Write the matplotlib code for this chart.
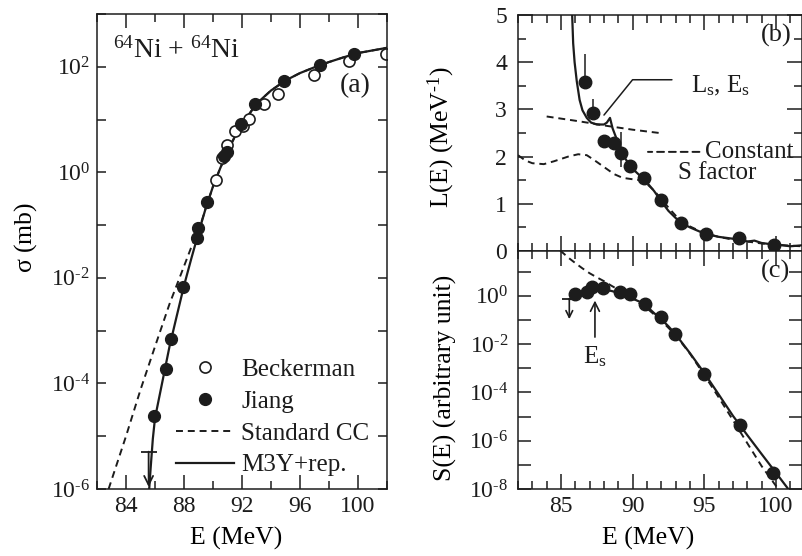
'''
64Ni + 64Ni fusion: cross section, logarithmic derivative and S factor.
'''

import numpy as np
import matplotlib.pyplot as plt
from matplotlib.ticker import FixedLocator, MultipleLocator, FuncFormatter, NullLocator


# ---- panel (a): cross section (mb) ----
beck_e = [90.2, 90.6, 91.0, 91.5, 92.1, 92.5, 93.5, 94.5, 96.95, 99.4, 101.95]
beck_sigma = [0.72, 1.86, 3.3, 6.0, 7.7, 10.2, 19.5, 30.0, 69.0, 126.0, 174.0]

jiang_e = [85.95, 86.74, 87.07, 87.92, 88.92, 88.99, 89.62, 90.75, 90.95,
           91.9, 92.9, 94.9, 97.4, 99.7]
jiang_sigma = [2.4e-5, 1.9e-4, 6.9e-4, 6.8e-3, 0.058, 0.087, 0.27, 2.0, 2.4,
               8.3, 19.5, 54.0, 107.0, 174.0]

m3y_e = [85.6, 85.7, 85.85, 86.0, 86.5, 87.0, 87.5, 88.0, 88.5, 89.0, 89.5,
         90.0, 90.5, 91.0, 91.5, 92.0, 93.0, 94.0, 95.0, 96.0, 97.0, 98.0,
         99.0, 100.0, 101.0, 102.0]
m3y_sigma = [1e-6, 2.5e-6, 8.9e-6, 2.2e-5, 1.05e-4, 5.0e-4, 1.9e-3, 7.1e-3,
             0.023, 0.071, 0.21, 0.54, 1.2, 2.5, 4.7, 8.1, 20.0, 35.5, 55.0,
             76.0, 98.0, 123.0, 151.0, 182.0, 204.0, 229.0]

cc_e = [82.8, 84.0, 85.0, 86.0, 87.0, 88.0, 88.5, 89.0]
cc_sigma = [1e-6, 1e-5, 7.6e-5, 5.0e-4, 3.2e-3, 0.0166, 0.038, 0.076]

ul_e_a = 85.56
ul_sigma_a = 5.1e-6

# ---- panel (b): L(E) (MeV^-1) ----
jiang_l_e = [86.68, 87.26, 88.0, 88.7, 89.19, 89.8, 90.8, 91.96, 93.37,
             95.1, 97.44, 99.86]
jiang_l = [3.57, 2.92, 2.34, 2.28, 2.07, 1.80, 1.54, 1.08, 0.60, 0.37, 0.27, 0.13]
jiang_l_err_lo = [0.1, 0.1, 0.0, 0.0, 0.3, 0.0, 0.0, 0.0, 0.0, 0.0, 0.0, 0.0]
jiang_l_err_hi = [0.6, 0.3, 0.0, 0.0, 0.45, 0.0, 0.0, 0.0, 0.0, 0.0, 0.0, 0.0]

m3y_l_e = [85.78, 85.85, 85.95, 86.1, 86.3, 86.5, 86.8, 87.1, 87.5, 88.0,
           88.2, 88.42, 88.6, 88.9, 89.2, 89.5, 90.0, 90.5, 91.0, 91.5, 92.0,
           92.5, 93.0, 93.5, 94.0, 95.0, 96.0, 97.0, 97.5, 98.0, 98.5, 99.0,
           99.5, 100.0, 100.5, 101.0, 101.8]
m3y_l = [5.0, 4.4, 4.0, 3.6, 3.2, 2.98, 2.82, 2.72, 2.68, 2.68, 2.72, 2.82,
         2.6, 2.36, 2.12, 1.95, 1.74, 1.6, 1.45, 1.27, 1.05, 0.85, 0.7, 0.58,
         0.5, 0.37, 0.3, 0.26, 0.24, 0.2, 0.22, 0.17, 0.15, 0.14, 0.12, 0.1,
         0.12]

const_l_e = [84.0, 86.0, 87.25, 88.0, 90.0, 92.14]
const_l = [2.85, 2.76, 2.70, 2.66, 2.57, 2.49]

cc_l_e = [82.0, 82.5, 83.0, 83.8, 84.5, 85.5, 86.2, 86.8, 87.3, 88.0, 88.7,
          89.3, 90.0, 90.5, 91.0, 91.5, 92.0, 92.5, 93.0, 94.0, 95.0, 96.0,
          97.0, 98.0, 99.0, 100.0, 101.8]
cc_l = [2.03, 1.92, 1.86, 1.84, 1.9, 2.0, 2.05, 2.03, 1.93, 1.78, 1.63, 1.55,
        1.52, 1.5, 1.42, 1.28, 1.1, 0.92, 0.75, 0.52, 0.38, 0.3, 0.24, 0.2,
        0.16, 0.13, 0.1]

# ---- panel (c): S(E) (arbitrary unit) ----
jiang_s_e = [85.98, 86.79, 87.14, 87.95, 89.1, 89.8, 90.86, 91.98, 92.96,
             95.0, 97.5, 99.82]
jiang_s = [1.17, 1.38, 2.19, 2.0, 1.38, 1.17, 0.457, 0.126, 0.0257, 5.75e-4,
           4.57e-6, 4.8e-8]

m3y_s_e = [85.6, 86.0, 86.5, 87.0, 87.5, 88.0, 88.5, 89.0, 89.5, 90.0, 90.5,
           91.0, 91.5, 92.0, 92.5, 93.0, 94.0, 95.0, 96.0, 97.0, 98.0, 99.0,
           100.0, 100.86]
m3y_s = [0.71, 1.07, 1.41, 1.66, 1.78, 1.74, 1.58, 1.32, 1.05, 0.76, 0.56,
         0.355, 0.19, 0.107, 0.054, 0.0251, 4.2e-3, 6.3e-4, 8.3e-5, 1.07e-5,
         1.7e-6, 2.8e-7, 4.7e-8, 1.0e-8]

cc_s_e = [84.95, 85.5, 86.0, 86.5, 87.0, 87.5, 88.0, 88.5, 89.0, 89.5, 90.0,
          91.0, 92.0, 93.0, 94.0, 95.0, 96.0, 97.0, 98.0, 99.0, 100.16]
cc_s = [74.0, 38.0, 22.4, 13.5, 8.5, 5.75, 4.0, 2.63, 1.78, 1.17, 0.76, 0.30,
        0.093, 0.0234, 4.0e-3, 5.2e-4, 6.3e-5, 7.1e-6, 7.9e-7, 8.9e-8, 1.0e-8]

ul_e_c = 85.58
ul_s_c = 0.76
ul_s_c_low = 0.107

e_s = 87.37


INK = '#1c1c1c'

plt.rcParams['font.family'] = ['Liberation Serif', 'DejaVu Serif']
plt.rcParams['mathtext.fontset'] = 'custom'
plt.rcParams['mathtext.rm'] = 'Liberation Serif'
plt.rcParams['mathtext.it'] = 'Liberation Serif:italic'
plt.rcParams['font.size'] = 17
plt.rcParams['axes.linewidth'] = 1.1
plt.rcParams['lines.scale_dashes'] = False
plt.rcParams['text.color'] = INK
plt.rcParams['axes.edgecolor'] = INK
plt.rcParams['xtick.color'] = INK
plt.rcParams['ytick.color'] = INK
plt.rcParams['xtick.direction'] = 'in'
plt.rcParams['ytick.direction'] = 'in'
plt.rcParams['xtick.top'] = True
plt.rcParams['ytick.right'] = True

DASH = (0, (5, 3.5))
TICK_FS = 17
LABEL_FS = 18.5
TEXT_FS = 18


def log_label(v, pos):
    e = int(round(np.log10(v)))
    if e % 2:
        return ''
    if e < 0:
        return r'$\mathregular{10^{\text{-}%d}}$' % -e
    return r'$\mathregular{10^{%d}}$' % e


fig = plt.figure(figsize=(8.02, 5.56), dpi=100)
ax_a = fig.add_axes([97 / 802, 67 / 556, 290 / 802, 475 / 556])
ax_b = fig.add_axes([518 / 802, 305 / 556, 284 / 802, 236 / 556])
ax_c = fig.add_axes([518 / 802, 67 / 556, 284 / 802, 238 / 556])

# ---------------- (a) ----------------
ax = ax_a
ax.set_yscale('log')
cc_all_e = cc_e + [e for e in m3y_e if e > cc_e[-1]]
cc_all_s = cc_sigma + [s for e, s in zip(m3y_e, m3y_sigma) if e > cc_e[-1]]
h_cc, = ax.plot(cc_all_e, cc_all_s, color=INK, lw=1.4, linestyle=DASH)
h_m3y, = ax.plot(m3y_e, m3y_sigma, color=INK, lw=1.6)
h_beck, = ax.plot(beck_e, beck_sigma, 'o', ms=8, mfc='white', mec=INK, mew=1.2)
h_jiang, = ax.plot(jiang_e, jiang_sigma, 'o', ms=8.5, color=INK)
ax.plot([ul_e_a], [ul_sigma_a], '_', ms=11, mew=1.3, color=INK)
ax.annotate('', xy=(ul_e_a, 1.1e-6), xytext=(ul_e_a, ul_sigma_a),
            arrowprops=dict(arrowstyle='->', color=INK, lw=1.3,
                            shrinkA=0, shrinkB=0, mutation_scale=16))
ax.set_xlim(82, 102)
ax.set_ylim(1e-6, 1e3)
ax.xaxis.set_major_locator(MultipleLocator(4))
ax.xaxis.set_minor_locator(MultipleLocator(2))
ax.yaxis.set_major_locator(FixedLocator(10.0 ** np.arange(-6, 4)))
ax.yaxis.set_minor_locator(NullLocator())
ax.yaxis.set_major_formatter(FuncFormatter(log_label))
ax.tick_params(axis='x', which='major', length=10, width=1.1, pad=5,
               labelsize=TICK_FS)
ax.tick_params(axis='x', which='minor', length=5.5, width=1.1)
ax.tick_params(axis='y', which='major', length=6.5, width=1.1, pad=5,
               labelsize=TICK_FS)
ax.set_xlabel('E (MeV)', fontsize=LABEL_FS)
ax.xaxis.set_label_coords(0.479, -0.08)
ax.set_ylabel(r'$\mathregular{\sigma}$ (mb)', fontsize=LABEL_FS)
ax.yaxis.set_label_coords(-0.2, 0.53)
ax.text(0.055, 0.924, r'$^{64}$Ni + $^{64}$Ni', transform=ax.transAxes,
        fontsize=20, va='center', ha='left')
ax.text(0.945, 0.85, '(a)', transform=ax.transAxes, fontsize=20,
        va='center', ha='right')
ax.legend([h_beck, h_jiang, h_cc, h_m3y],
          ['Beckerman', 'Jiang', 'Standard CC', 'M3Y+rep.'],
          loc='lower right', bbox_to_anchor=(1.0, -0.01), frameon=False,
          fontsize=TEXT_FS, handlelength=2.3, handletextpad=0.3,
          labelspacing=0.37, borderpad=0.2)

# ---------------- (b) ----------------
ax = ax_b
ax.plot(cc_l_e, cc_l, color=INK, lw=1.4, linestyle=DASH)
ax.plot(const_l_e, const_l, color=INK, lw=1.4, linestyle=DASH)
ax.plot(m3y_l_e, m3y_l, color=INK, lw=1.6)
ax.errorbar(jiang_l_e, jiang_l, yerr=[jiang_l_err_lo, jiang_l_err_hi], fmt='o',
            ms=9, color=INK, elinewidth=1.1, capsize=0)
ax.set_xlim(82, 101.82)
ax.set_ylim(0, 5)
ax.xaxis.set_major_locator(FixedLocator([85, 90, 95, 100]))
ax.xaxis.set_minor_locator(MultipleLocator(1))
ax.yaxis.set_major_locator(MultipleLocator(1))
ax.yaxis.set_minor_locator(MultipleLocator(0.5))
ax.tick_params(axis='x', which='major', length=10.5, width=1.1, labelbottom=False)
ax.tick_params(axis='x', which='minor', length=6, width=1.1)
ax.tick_params(axis='y', which='major', length=10.5, width=1.1, pad=8,
               labelsize=TICK_FS)
ax.tick_params(axis='y', which='minor', length=5.5, width=1.1)
ax.set_ylabel(r'L(E) (MeV$^{\mathregular{\text{-}1}}$)', fontsize=LABEL_FS)
ax.yaxis.set_label_coords(-0.216, 0.483)
ax.text(0.965, 0.915, '(b)', transform=ax.transAxes, fontsize=19,
        va='center', ha='right')
ax.annotate(r'L$_\mathregular{s}$, E$_\mathregular{s}$', xy=(88.0, 2.88),
            xytext=(94.1, 3.5), fontsize=TEXT_FS, va='center', ha='left',
            arrowprops=dict(arrowstyle='-', color=INK, lw=1.1, relpos=(0, 0.75),
                            shrinkA=12, shrinkB=0,
                            connectionstyle='angle,angleA=0,angleB=51,rad=0'))
ax.annotate('Constant', xy=(91.07, 2.10), xytext=(95.05, 2.10),
            fontsize=TEXT_FS, va='center', ha='left',
            arrowprops=dict(arrowstyle='-', color=INK, lw=1.4, linestyle=DASH,
                            relpos=(0, 0.5), shrinkA=2, shrinkB=0))
ax.text(93.2, 1.66, 'S factor', fontsize=TEXT_FS, va='center', ha='left')

# ---------------- (c) ----------------
ax = ax_c
ax.set_yscale('log')
ax.plot(cc_s_e, cc_s, color=INK, lw=1.4, linestyle=DASH)
ax.plot(m3y_s_e, m3y_s, color=INK, lw=1.6)
ax.plot(jiang_s_e, jiang_s, 'o', ms=9, color=INK)
ax.plot([ul_e_c], [ul_s_c], '_', ms=10, mew=1.3, color=INK)
ax.annotate('', xy=(ul_e_c, ul_s_c_low), xytext=(ul_e_c, ul_s_c),
            arrowprops=dict(arrowstyle='->', color=INK, lw=1.2,
                            shrinkA=0, shrinkB=0, mutation_scale=12))
ax.annotate(r'E$_\mathregular{s}$', xy=(e_s, 0.63), xytext=(e_s, 0.01),
            fontsize=TEXT_FS, ha='center', va='top',
            arrowprops=dict(arrowstyle='->', color=INK, lw=1.2,
                            relpos=(0.5, 1), shrinkA=3, shrinkB=0,
                            mutation_scale=16))
ax.set_xlim(82, 101.82)
ax.set_ylim(1e-8, 10 ** 1.85)
ax.xaxis.set_major_locator(FixedLocator([85, 90, 95, 100]))
ax.xaxis.set_minor_locator(MultipleLocator(1))
ax.yaxis.set_major_locator(FixedLocator(10.0 ** np.arange(-8, 2)))
ax.yaxis.set_minor_locator(NullLocator())
ax.yaxis.set_major_formatter(FuncFormatter(log_label))
ax.tick_params(axis='x', which='major', length=11, width=1.1, pad=5,
               labelsize=TICK_FS)
ax.tick_params(axis='x', which='minor', length=6, width=1.1)
ax.tick_params(axis='y', which='major', length=9.5, width=1.1, pad=7,
               labelsize=TICK_FS)
ax.set_xlabel('E (MeV)', fontsize=LABEL_FS)
ax.xaxis.set_label_coords(0.459, -0.16)
ax.set_ylabel('S(E) (arbitrary unit)', fontsize=LABEL_FS)
ax.yaxis.set_label_coords(-0.216, 0.468)
ax.text(0.958, 0.913, '(c)', transform=ax.transAxes, fontsize=19,
        va='center', ha='right')

fig.savefig('out.png', dpi=100)
print('figure is in out.png')
